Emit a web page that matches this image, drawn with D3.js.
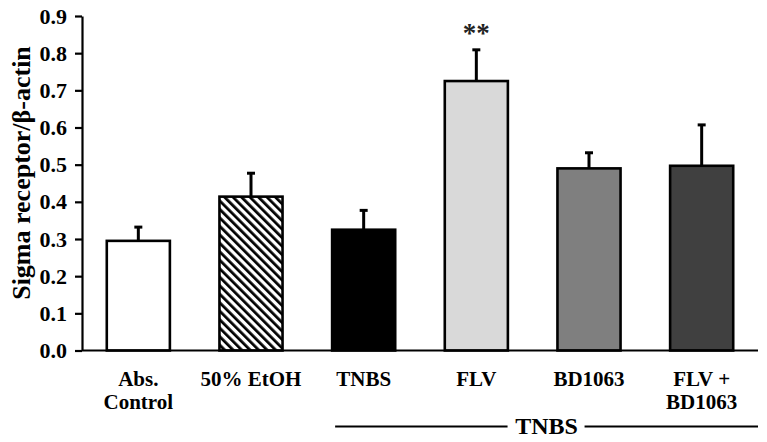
<!DOCTYPE html>
<html>
<head>
<meta charset="utf-8">
<script src="https://cdn.jsdelivr.net/npm/d3@7"></script>
<style>
  body { margin: 0; background: #fff; }
  svg { display: block; font-family: "Liberation Serif", "Times New Roman", serif; font-weight: bold; }
</style>
</head>
<body>
<svg width="767" height="442"></svg>
<script>
// данные графика
const categories = ["Abs. Control", "50% EtOH", "TNBS", "FLV", "BD1063", "FLV + BD1063"];
const labelLines = [["Abs.", "Control"], ["50% EtOH"], ["TNBS"], ["FLV"], ["BD1063"], ["FLV +", "BD1063"]];
const means = [0.295, 0.414, 0.325, 0.725, 0.490, 0.497];
const errors = [0.037, 0.063, 0.052, 0.084, 0.042, 0.110];
const fills = ["#ffffff", "url(#hatch)", "#000000", "#d9d9d9", "#7f7f7f", "#404040"];
const yTicks = [0, 0.1, 0.2, 0.3, 0.4, 0.5, 0.6, 0.7, 0.8, 0.9];
const stars = ["", "", "", "**", "", ""];
const groupLabel = "TNBS";
const groupFrom = "TNBS";

const svg = d3.select("svg");

const area = { left: 82, right: 758, top: 16, bottom: 350.5 };

// штриховка для 50% EtOH (линии "\")
const defs = svg.append("defs");
const pat = defs.append("pattern")
    .attr("id", "hatch")
    .attr("patternUnits", "userSpaceOnUse")
    .attr("width", 6).attr("height", 6)
    .attr("patternTransform", "rotate(-45)");
pat.append("rect").attr("width", 6).attr("height", 6).attr("fill", "#fff");
pat.append("line")
    .attr("x1", 0).attr("y1", 0).attr("x2", 0).attr("y2", 6)
    .attr("stroke", "#000").attr("stroke-width", 5.5);

// шкалы
const x = d3.scaleBand()
    .domain(categories)
    .range([area.left, area.right])
    .paddingInner(0.44)
    .paddingOuter(0.22);

const y = d3.scaleLinear()
    .domain([0, 0.9])
    .range([area.bottom, area.top]);

// ось Y
const gy = svg.append("g")
    .attr("transform", `translate(${area.left},0)`)
    .call(d3.axisLeft(y).tickValues(yTicks).tickFormat(d3.format(".1f")).tickSizeInner(7).tickSizeOuter(0));
gy.select(".domain").attr("stroke-width", 2.2);
gy.selectAll(".tick line").attr("stroke-width", 2.2);
gy.selectAll(".tick text")
    .attr("x", -15)
    .style("font-family", "Liberation Serif")
    .style("font-weight", "bold")
    .style("font-size", "22px")
    .attr("fill", "#000");

// столбцы
const data = categories.map((c, i) => ({ cat: c, mean: means[i], err: errors[i], fill: fills[i], star: stars[i] }));

svg.selectAll("rect.bar")
    .data(data)
    .join("rect")
    .attr("class", "bar")
    .attr("x", d => x(d.cat))
    .attr("y", d => y(d.mean))
    .attr("width", x.bandwidth())
    .attr("height", d => y(0) - y(d.mean))
    .attr("fill", d => d.fill)
    .attr("stroke", "#000")
    .attr("stroke-width", 2.6);

// планки погрешностей
const cx = d => x(d.cat) + x.bandwidth() / 2;
svg.selectAll("line.err")
    .data(data)
    .join("line")
    .attr("x1", cx).attr("x2", cx)
    .attr("y1", d => y(d.mean))
    .attr("y2", d => y(d.mean + d.err))
    .attr("stroke", "#000").attr("stroke-width", 3);
svg.selectAll("line.cap")
    .data(data)
    .join("line")
    .attr("x1", d => cx(d) - 4).attr("x2", d => cx(d) + 4)
    .attr("y1", d => y(d.mean + d.err))
    .attr("y2", d => y(d.mean + d.err))
    .attr("stroke", "#000").attr("stroke-width", 3);

// звездочки
svg.selectAll("text.star")
    .data(data.filter(d => d.star))
    .join("text")
    .attr("x", cx)
    .attr("y", d => y(d.mean + d.err) - 8)
    .attr("text-anchor", "middle")
    .style("font-size", "27px")
    .attr("fill", "#222")
    .text(d => d.star);

// ось X
svg.append("line")
    .attr("x1", area.left).attr("x2", area.right)
    .attr("y1", y(0)).attr("y2", y(0))
    .attr("stroke", "#000").attr("stroke-width", 2.2);

// подписи категорий
categories.forEach((c, i) => {
    const t = svg.append("text")
        .attr("x", x(c) + x.bandwidth() / 2)
        .attr("y", 386)
        .attr("text-anchor", "middle")
        .style("font-size", "21px");
    labelLines[i].forEach((s, k) => {
        t.append("tspan")
            .attr("x", x(c) + x.bandwidth() / 2)
            .attr("dy", k === 0 ? 0 : 23)
            .text(s);
    });
});

// групповая подпись TNBS
const gx0 = x(groupFrom) + 3;
const gx1 = area.right;
const gmid = (gx0 + gx1) / 2;
const gyLine = 426.5;
svg.append("line")
    .attr("x1", gx0).attr("x2", gmid - 39)
    .attr("y1", gyLine).attr("y2", gyLine)
    .attr("stroke", "#000").attr("stroke-width", 2);
svg.append("line")
    .attr("x1", gmid + 38).attr("x2", gx1)
    .attr("y1", gyLine).attr("y2", gyLine)
    .attr("stroke", "#000").attr("stroke-width", 2);
svg.append("text")
    .attr("x", gmid)
    .attr("y", 434)
    .attr("text-anchor", "middle")
    .style("font-size", "24px")
    .text(groupLabel);

// подпись оси Y
svg.append("text")
    .attr("transform", `translate(30, 173) rotate(-90)`)
    .attr("text-anchor", "middle")
    .style("font-size", "26px")
    .text("Sigma receptor/β-actin");
</script>
</body>
</html>
